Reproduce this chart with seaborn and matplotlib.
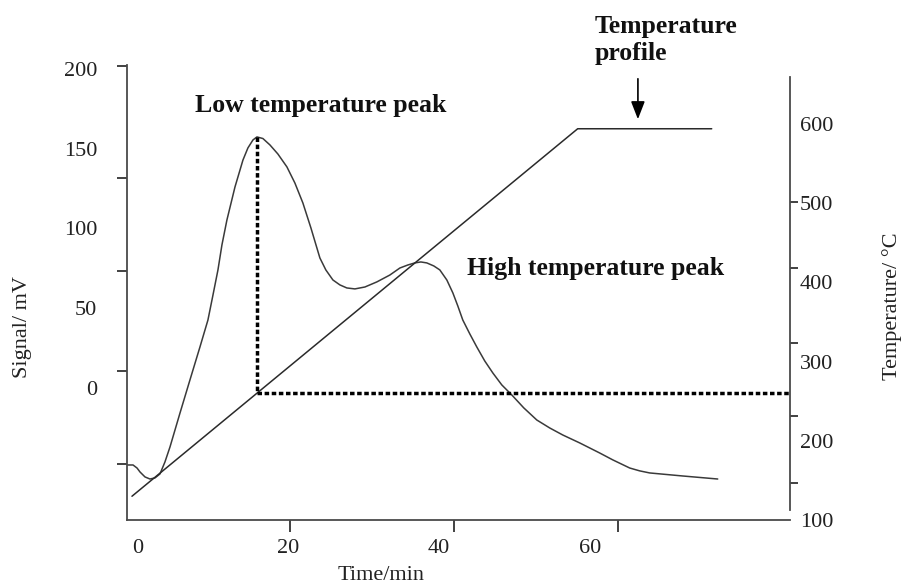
import numpy as np
import matplotlib
matplotlib.use("Agg")
import matplotlib.pyplot as plt
import seaborn as sns

# Detector signal (mV) against time (min)
time_signal = [-1.46, -0.66, -0.13, 0.27, 0.93, 1.59, 2.26, 2.92, 3.58, 4.25,
               5.58, 6.90, 8.23, 9.29, 9.96, 10.62, 11.15, 11.81, 12.88, 13.94,
               14.60, 15.27, 15.80, 16.59, 17.52, 18.58, 19.78, 20.84, 21.90, 22.97,
               24.16, 24.95, 25.89, 26.82, 27.74, 28.81, 30.14, 31.73, 33.45, 34.78,
               35.84, 36.77, 37.57, 38.36, 39.29, 40.09, 41.02, 41.82, 42.48, 43.14,
               44.07, 45.00, 46.06, 47.13, 48.32, 49.65, 51.24, 52.97, 54.69, 56.42,
               58.68, 61.33, 63.06, 65.31, 66.64, 67.97, 72.35, 77.00]
signal_mv = [-48.3, -48.3, -50.2, -52.7, -55.8, -57.1, -56.4, -53.9, -46.4, -37.0,
             -15.7, 5.0, 25.7, 42.6, 58.3, 74.0, 89.7, 105.3, 126.0, 142.9,
             150.5, 155.5, 157.4, 156.4, 152.4, 146.7, 138.6, 128.5, 116.0, 100.3,
             81.5, 74.0, 67.7, 64.6, 62.7, 62.1, 63.3, 66.5, 70.8, 75.2,
             77.1, 78.4, 79.0, 78.4, 76.5, 74.0, 67.7, 59.6, 51.4, 42.6,
             33.9, 25.7, 16.9, 9.4, 1.9, -4.4, -12.5, -20.1, -25.1, -29.5,
             -34.5, -40.8, -45.1, -50.2, -52.0, -53.3, -55.2, -57.1]

# Oven temperature programme: linear ramp, then hold
time_temp = [-0.8, 58.4, 76.2]
temp_c = [130, 594, 594]

time_ticks = [0, 20, 40, 60]
signal_ticks = [0, 50, 100, 150, 200]
temp_ticks = [100, 200, 300, 400, 500, 600]

sns.set_theme(style="ticks")
plt.rcParams["font.family"] = ["Liberation Serif", "DejaVu Serif"]

INK = "#333333"
fig = plt.figure(figsize=(9.01, 5.86), dpi=100)
ax = fig.add_axes([127 / 901, 1 - 520 / 586, 663 / 901, 455 / 586])
ax2 = ax.twinx()

ax.set_xlim(-1.46, 86.6)
ax.set_ylim(-82.8, 202.5)
ax2.set_ylim(100, 674.5)

sns.lineplot(x=time_signal, y=signal_mv, ax=ax, color="#3a3a3a",
             linewidth=1.1, estimator=None, sort=False)
sns.lineplot(x=time_temp, y=temp_c, ax=ax2, color="#2a2a2a",
             linewidth=1.1, estimator=None, sort=False)

# Dotted guides: from the low temperature peak down to the ramp, then across
i_peak = int(np.argmax(signal_mv))
t_peak = time_signal[i_peak]
s_peak = signal_mv[i_peak]
T_at_peak = float(np.interp(t_peak, time_temp, temp_c))
y_disp = ax2.transData.transform((t_peak, T_at_peak))[1]
s_base = ax.transData.inverted().transform((0, y_disp))[1]
dots = dict(color="black", linewidth=2.5, linestyle=(0, (1.3, 0.75)),
            dash_capstyle="butt")
ax.plot([t_peak, t_peak], [s_peak, s_base], **dots)
ax2.plot([t_peak, ax.get_xlim()[1]], [T_at_peak, T_at_peak], **dots)

# Spines
for side in ["top", "right"]:
    ax.spines[side].set_visible(False)
for side in ["top", "left", "bottom"]:
    ax2.spines[side].set_visible(False)
for sp in [ax.spines["left"], ax.spines["bottom"], ax2.spines["right"]]:
    sp.set_color("#4a4a4a")
    sp.set_linewidth(1.3)
ax2.spines["right"].set_bounds(112.6, 659.3)

# Ticks: labels and tick marks sit at their own positions
ax.set_xticks(time_ticks)
ax.set_xticks([20.2, 42.0, 63.7], minor=True)
ax.tick_params(axis="x", which="major", bottom=True, length=0, pad=14,
               labelsize=16, labelcolor="#222222")
ax.tick_params(axis="x", which="minor", bottom=True, direction="out",
               length=8.5, width=1.3, color=INK)

ax.set_yticks(signal_ticks)
ax.set_yticks([202, 131.7, 73.4, 10.7, -47.6], minor=True)
ax.tick_params(axis="y", which="major", left=True, length=0, pad=21.6,
               labelsize=16, labelcolor="#222222")
ax.tick_params(axis="y", which="minor", left=True, direction="out",
               length=7, width=1.3, color=INK)

ax2.set_yticks(temp_ticks)
ax2.set_yticks([600, 501.5, 418.2, 323.5, 231.3, 146.7], minor=True)
ax2.tick_params(axis="y", which="major", right=True, length=0, pad=7,
                labelsize=16, labelcolor="#222222")
ax2.tick_params(axis="y", which="minor", right=True, direction="out",
                length=6, width=1.3, color=INK)

# Axis titles
ax.set_xlabel("Time/min", fontsize=16, color="#222222")
ax.xaxis.label.set_va("center")
ax.xaxis.set_label_coords(0.383, -0.121)
ax.set_ylabel("Signal/ mV", fontsize=16, color="#222222")
ax.yaxis.label.set_va("center")
ax.yaxis.set_label_coords(-0.158, 0.424)
ax2.set_ylabel("Temperature/ °C", fontsize=16, color="#222222")
ax2.yaxis.label.set_va("center")
ax2.yaxis.label.set_rotation(90)
ax2.yaxis.set_label_coords(1.154, 0.470)

# Annotations
ax.text(7.57, 176.8, "Low temperature peak", fontsize=18.5,
        fontweight="bold", ha="left", va="center", color="#111111")
ax.text(43.7, 75.2, "High temperature peak", fontsize=18.5,
        fontweight="bold", ha="left", va="center", color="#111111")
ax.text(60.7, 218.2, "Temperature\nprofile", fontsize=18.5,
        fontweight="bold", ha="left", va="center", linespacing=1.25,
        color="#111111")
ax2.annotate("", xy=(66.4, 602.5), xytext=(66.4, 660.6),
             arrowprops=dict(arrowstyle="-|>,head_length=0.9,head_width=0.35",
                             color="black", linewidth=1.2))

fig.savefig("out.png", dpi=100)
